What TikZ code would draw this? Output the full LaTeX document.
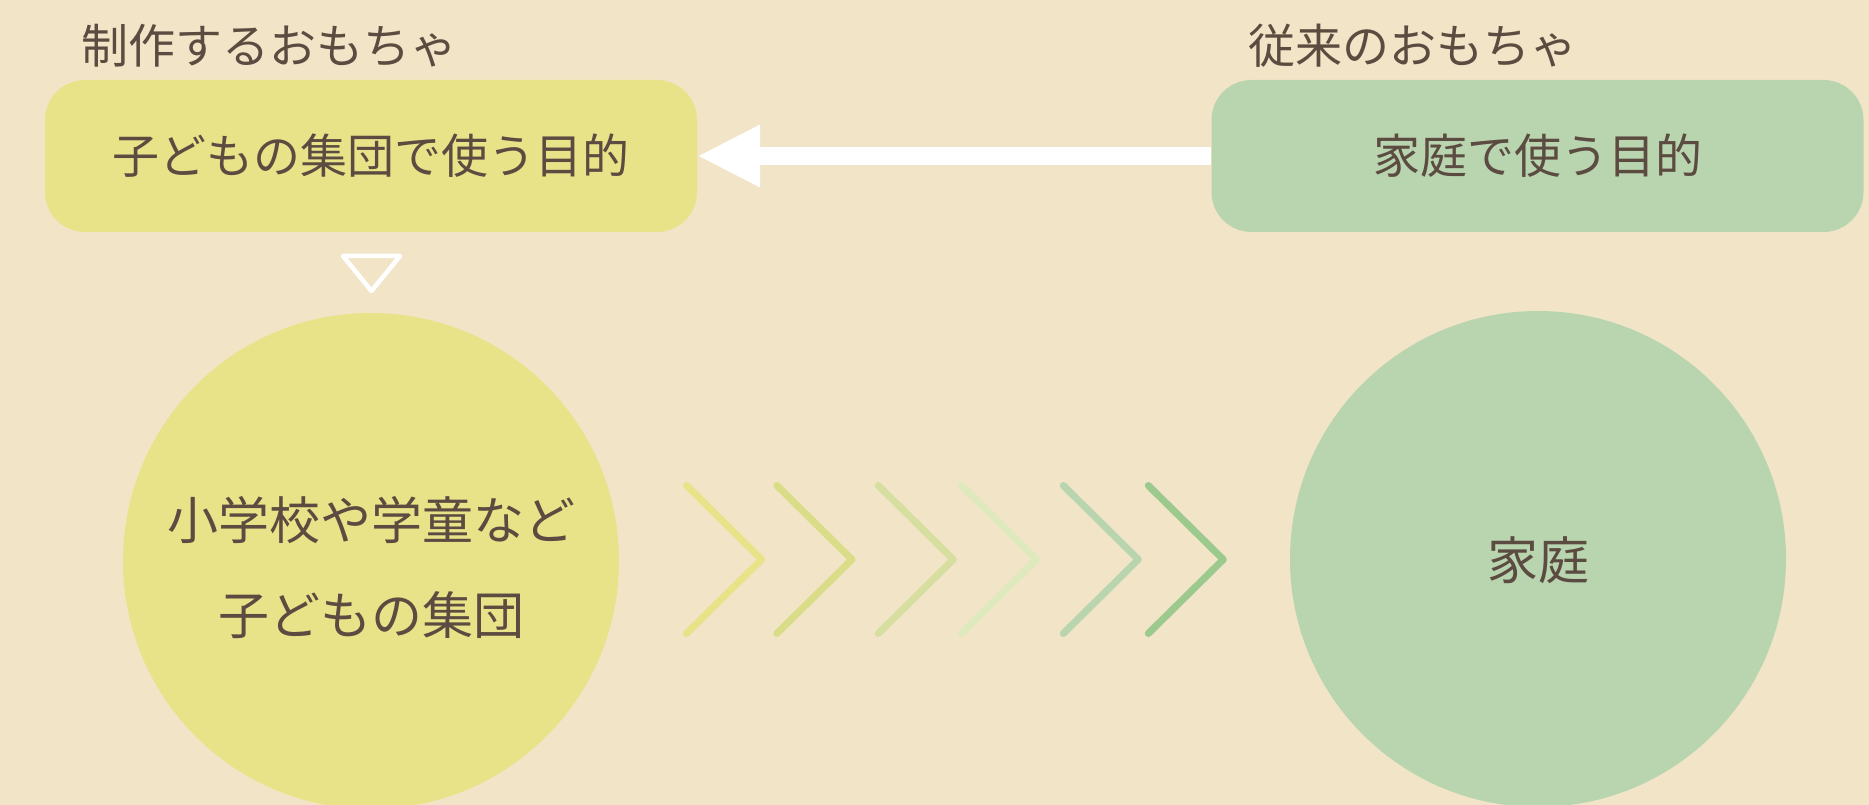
\documentclass[tikz,border=0pt]{standalone}
\usepackage{fontspec}
\newfontfamily\cjk{Noto Sans CJK JP}
\usetikzlibrary{arrows.meta}
\definecolor{bg}{HTML}{F2E4C6}
\definecolor{yel}{HTML}{E8E289}
\definecolor{grn}{HTML}{B8D5B0}
\definecolor{ink}{HTML}{5B4B40}
\definecolor{cA}{HTML}{E8E289}
\definecolor{cB}{HTML}{DADD88}
\definecolor{cC}{HTML}{D6DF9F}
\definecolor{cD}{HTML}{DFE9BE}
\definecolor{cE}{HTML}{B8D5B0}
\definecolor{cF}{HTML}{9BC98E}
\tikzset{
  box/.style={rounded corners=40pt, minimum width=652pt, minimum height=152pt, inner sep=0pt, text=ink, font=\cjk\fontsize{47}{56}\selectfont},
  ttl/.style={anchor=west, inner sep=0pt, text=ink, font=\cjk\fontsize{47}{56}\selectfont},
  bigcirc/.style={circle, minimum size=496pt, inner sep=0pt},
  ctext/.style={align=center, inner sep=0pt, text=ink, font=\cjk\fontsize{51}{95}\selectfont},
  chev/.style={line width=7pt, line cap=round, line join=round},
}
\begin{document}
\begin{tikzpicture}[x=1pt,y=-1pt]
\fill[bg] (0,0) rectangle (1869,805);
\useasboundingbox (0,0) rectangle (1869,805);

% titles
\node[ttl] (ltitle) at (81,46) {制作するおもちゃ};
\node[ttl] (rtitle) at (1248,46) {従来のおもちゃ};

% boxes
\node[box, fill=yel] (lbox) at (371,156) {子どもの集団で使う目的};
\node[box, fill=grn] (rbox) at (1537.5,156) {家庭で使う目的};

% arrow
\draw[white, line width=18pt, -{Triangle[length=63pt,width=58pt]}]
  (rbox.west) -- (lbox.east);

% triangle marker
\draw[white, line width=4.5pt, line join=round] (343,256) -- (400,256) -- (371.5,291) -- cycle;

% circles
\node[bigcirc, fill=yel] (lcirc) at (371,561) {};
\node[bigcirc, fill=grn] (rcirc) at (1538,559) {};
\node[ctext] (ltext) at (371,568) {小学校や学童など\\子どもの集団};
\node[ctext] (rtext) at (1538,560) {家庭};

% chevrons
\foreach \x/\c in {686.6/cA, 776.9/cB, 878.3/cC, 961.5/cD, 1063.3/cE, 1148.3/cF}{
  \draw[chev, \c] (\x,485.5) -- (\x+75,559.5) -- (\x,633.5);
}
\end{tikzpicture}
\end{document}
